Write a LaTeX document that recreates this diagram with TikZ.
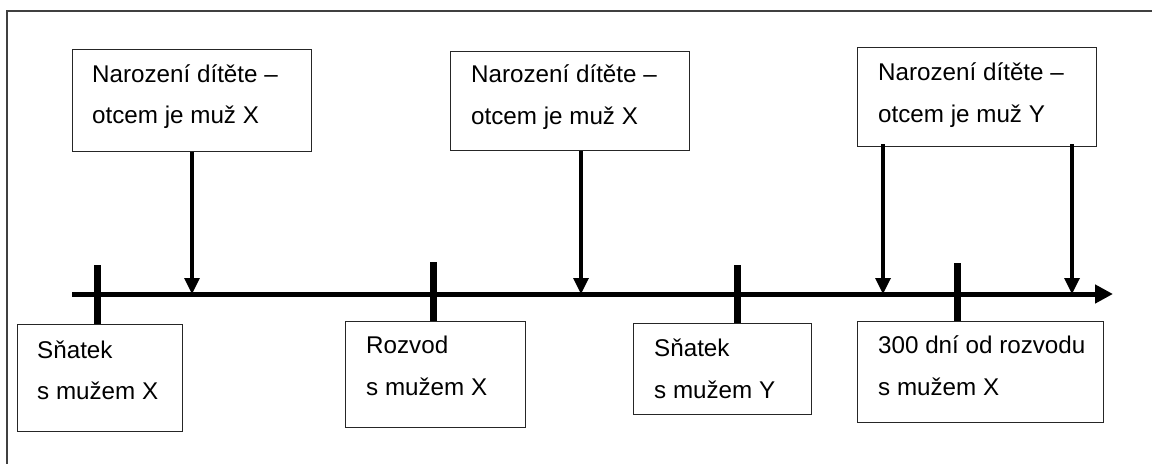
\documentclass[tikz,border=0pt]{standalone}
\usepackage{fontspec}
\setmainfont{Liberation Sans}
\usetikzlibrary{arrows.meta}
\begin{document}
\begin{tikzpicture}[x=1pt,y=-1pt,
  box/.style={draw=black!85, line width=1.4pt, rectangle, anchor=north west, inner sep=0pt},
  lbl/.style={anchor=base west, inner sep=0pt, font=\fontsize{24.2pt}{29pt}\selectfont},
  tick/.style={line width=7pt},
  axis/.style={line width=5pt, -{Triangle[length=18pt,width=18pt]}},
  ptr/.style={line width=3.3pt, -{Triangle[length=16pt,width=15pt]}},
  frame/.style={draw=black!75, line width=1.3pt}]
\useasboundingbox (0,0) rectangle (1152,464);
% frame (only top and left edges visible)
\coordinate (fr) at (7,11);
\coordinate (frR) at (1152,11);
\coordinate (frB) at (7,464);
\draw[frame] (frR) -- (fr) -- (frB);

% top boxes
\node[box, minimum width=239pt, minimum height=102pt] (t1) at (72,49) {};
\node[lbl] (t1a) at ([shift={(20,33)}]t1.north west) {Narození dítěte –};
\node[lbl] (t1b) at ([shift={(20,74)}]t1.north west) {otcem je muž X};

\node[box, minimum width=239pt, minimum height=99pt] (t2) at (450,51) {};
\node[lbl] (t2a) at ([shift={(21,31)}]t2.north west) {Narození dítěte –};
\node[lbl] (t2b) at ([shift={(21,73)}]t2.north west) {otcem je muž X};

\node[box, minimum width=239pt, minimum height=99pt] (t3) at (857,47) {};
\node[lbl] (t3a) at ([shift={(21,33)}]t3.north west) {Narození dítěte –};
\node[lbl] (t3b) at ([shift={(21,75)}]t3.north west) {otcem je muž Y};

% bottom boxes
\node[box, minimum width=165pt, minimum height=107pt] (b1) at (17,324) {};
\node[lbl] (b1a) at ([shift={(20,34)}]b1.north west) {Sňatek};
\node[lbl] (b1b) at ([shift={(20,75)}]b1.north west) {s mužem X};

\node[box, minimum width=180pt, minimum height=106pt] (b2) at (345,321) {};
\node[lbl] (b2a) at ([shift={(21,32)}]b2.north west) {Rozvod};
\node[lbl] (b2b) at ([shift={(21,74)}]b2.north west) {s mužem X};

\node[box, minimum width=178pt, minimum height=91pt] (b3) at (633,323) {};
\node[lbl] (b3a) at ([shift={(21,33)}]b3.north west) {Sňatek};
\node[lbl] (b3b) at ([shift={(21,75)}]b3.north west) {s mužem Y};

\node[box, minimum width=246pt, minimum height=101pt] (b4) at (857,321) {};
\node[lbl] (b4a) at ([shift={(21,32)}]b4.north west) {300 dní od rozvodu};
\node[lbl] (b4b) at ([shift={(21,74)}]b4.north west) {s mužem X};

% timeline
\coordinate (ax0) at (72,294);
\coordinate (ax1) at (1113,294);
\draw[axis] (ax0) -- (ax1);

% ticks
\coordinate (k1) at (97,265);  \draw[tick] (k1) -- (b1.north west -| k1);
\coordinate (k2) at (433,262); \draw[tick] (k2) -- (b2.north west -| k2);
\coordinate (k3) at (737,265); \draw[tick] (k3) -- (b3.north west -| k3);
\coordinate (k4) at (957,263); \draw[tick] (k4) -- (b4.north west -| k4);

% pointers
\coordinate (p1) at (192,294);
\coordinate (p2) at (581,294);
\coordinate (p3) at (883,294);
\coordinate (p4) at (1072,294);
\draw[ptr] (t1.south -| p1) -- (p1);
\draw[ptr] (t2.south -| p2) -- (p2);
\draw[ptr] ([yshift=3pt]t3.south -| p3) -- (p3);
\draw[ptr] ([yshift=3pt]t3.south -| p4) -- (p4);
\end{tikzpicture}
\end{document}
